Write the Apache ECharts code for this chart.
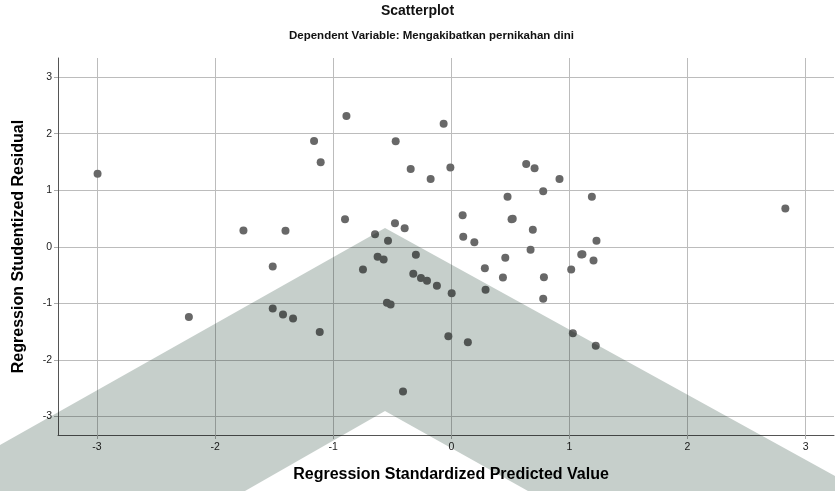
<!DOCTYPE html>
<html>
<head>
<meta charset="utf-8">
<script src="https://cdn.jsdelivr.net/npm/echarts@6/dist/echarts.min.js"></script>
<style>html,body{margin:0;padding:0;background:#fff}#c{width:835px;height:491px}</style>
</head>
<body>
<div id="c"></div>
<script>
const titleText = 'Scatterplot';
const subtitleText = 'Dependent Variable: Mengakibatkan pernikahan dini';
const xAxisName = 'Regression Standardized Predicted Value';
const yAxisName = 'Regression Studentized Residual';

// Regression Standardized Predicted Value
const predicted = [
  -2.995, -2.222, -1.760, -1.404, -1.512, -1.512, -1.425, -1.340,
  -0.888, -1.162, -1.106, -0.471, -0.065, -0.344, -0.175, -0.008,
   0.634,  0.705,  0.916,  0.778,  0.476,  1.190, -0.900,  0.096,
   0.510,  0.520, -0.477, -0.395, -0.646, -0.536,  0.101,  0.195,
   0.690,  1.229,  0.671,  1.100,  1.110,  1.204, -0.624, -0.573,
  -0.300, -0.748, -0.322, -0.257, -0.206, -0.122,  0.003,  0.284,
   0.457,  0.437,  0.290,  0.784,  0.778,  1.015, -0.545, -0.514,
  -1.114, -0.025,  0.140,  1.029,  1.223, -0.409,  2.828
];
// Regression Studentized Residual
const residual = [
   1.290, -1.244,  0.288,  0.283, -0.348, -1.090, -1.200, -1.267,
   2.314,  1.873,  1.495,  1.866,  2.178,  1.378,  1.201,  1.401,
   1.466,  1.389,  1.201,  0.982,  0.883,  0.883,  0.488,  0.558,
   0.488,  0.495,  0.417,  0.329,  0.223,  0.106,  0.177,  0.081,
   0.300,  0.106, -0.053, -0.136, -0.130, -0.242, -0.177, -0.224,
  -0.141, -0.401, -0.477, -0.554, -0.601, -0.689, -0.820, -0.378,
  -0.195, -0.542, -0.760, -0.537, -0.919, -0.401, -0.990, -1.020,
  -1.508, -1.585, -1.691, -1.532, -1.749, -2.562,  0.677
];

const xRange = [-3.33, 3.24];
const yRange = [-3.33, 3.34];

const points = predicted.map((x, i) => [x, residual[i]]);

const chart = echarts.init(document.getElementById('c'), null, {renderer: 'canvas'});
const font = 'Liberation Sans, Arial, sans-serif';

const axisCommon = {
  type: 'value',
  nameLocation: 'middle',
  axisLine: {show: true, onZero: false, lineStyle: {color: '#555', width: 1}},
  axisTick: {show: true, length: 4, lineStyle: {color: '#aaa'}},
  splitLine: {show: true, showMinLine: false, showMaxLine: false, lineStyle: {color: '#bcbcbc', width: 1}},
  axisLabel: {showMinLabel: false, showMaxLabel: false, color: '#222', fontSize: 10.5, fontFamily: font},
  nameTextStyle: {color: '#000', fontSize: 16, fontWeight: 'bold', fontFamily: font}
};

chart.setOption({
  animation: false,
  backgroundColor: '#fff',
  title: [
    {text: titleText, left: 'center', top: 4, padding: 0,
     textStyle: {fontSize: 14, fontWeight: 'bold', color: '#111', fontFamily: font}},
    {text: subtitleText, left: 289, top: 30, padding: 0,
     textStyle: {fontSize: 11.5, fontWeight: 'bold', color: '#111', fontFamily: font}}
  ],
  grid: {left: 58, top: 58, right: 1, bottom: 56, containLabel: false},
  xAxis: Object.assign({}, axisCommon, {
    min: xRange[0], max: xRange[1],
    name: xAxisName, nameGap: 32,
    nameTextStyle: Object.assign({}, axisCommon.nameTextStyle, {padding: [0, 0, 0, 10]}),
    axisLabel: Object.assign({}, axisCommon.axisLabel, {margin: 7})
  }),
  yAxis: Object.assign({}, axisCommon, {
    min: yRange[0], max: yRange[1],
    name: yAxisName, nameGap: 31,
    axisLabel: Object.assign({}, axisCommon.axisLabel, {margin: 6})
  }),
  series: [{
    type: 'scatter',
    data: points,
    symbol: 'circle',
    symbolSize: 8,
    itemStyle: {color: '#686868', opacity: 1},
    z: 3
  }],
  graphic: [{
    type: 'polygon',
    z: 100,
    silent: true,
    shape: {points: [[0, 445], [385, 228], [835, 476], [835, 491], [528, 491], [385, 411], [245, 491], [0, 491]]},
    style: {fill: '#c6cfcb', blend: 'multiply'}
  }]
});
</script>
</body>
</html>
